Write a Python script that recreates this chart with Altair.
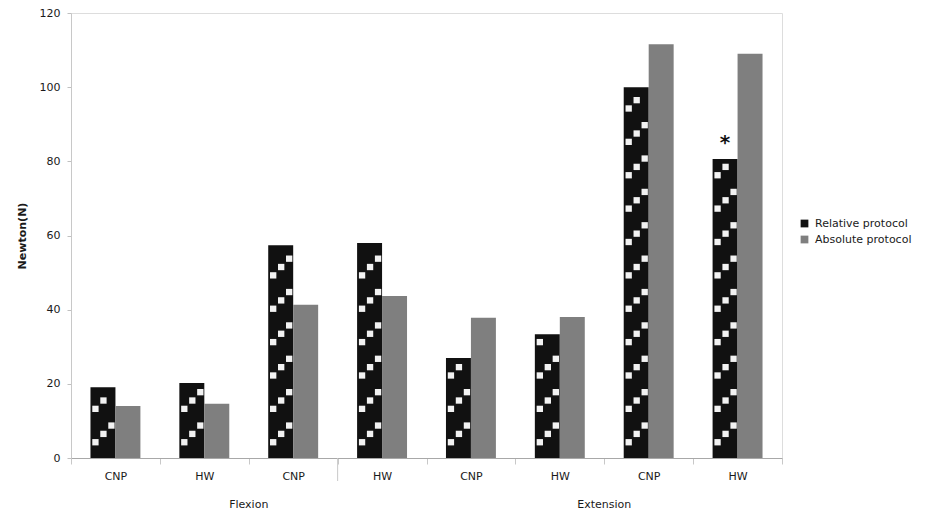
import json
import altair as alt
import pandas as pd

# ---- data ----
labels = ["CNP", "HW", "CNP", "HW", "CNP", "HW", "CNP", "HW"]
relative = [19.1, 20.2, 57.4, 58.0, 27.0, 33.4, 100.0, 80.6]
absolute = [14.0, 14.6, 41.3, 43.7, 37.8, 38.0, 111.6, 109.0]
series = ["Relative protocol", "Absolute protocol"]
groups = ["Flexion", "Extension"]
group_start_idx = [2, 6]      # group label is centred on the start of this band
separator_idx = [3]           # long separator tick at the start of this band
star_idx = [7]                # significance star on this relative bar
y_ticks = [0, 20, 40, 60, 80, 100, 120]

rows = []
for i, lab in enumerate(labels):
    rows.append({"idx": i, "label": lab, "series": series[0], "value": relative[i]})
    rows.append({"idx": i, "label": lab, "series": series[1], "value": absolute[i]})
df = pd.DataFrame(rows)

FONT = "DejaVu Sans"
label_expr = json.dumps(labels) + "[datum.value]"

x_enc = alt.X(
    "idx:O",
    scale=alt.Scale(paddingInner=0, paddingOuter=0),
    axis=alt.Axis(
        title=None, labelExpr=label_expr, labelAngle=0, tickBand="extent",
        tickSize=6, tickColor="#c8c8c8", domainColor="#a8a8a8",
        labelPadding=6, labelFontSize=11, labelColor="#1a1a1a", labelFont=FONT,
    ),
)
y_enc = alt.Y(
    "value:Q",
    scale=alt.Scale(domain=[0, 120], nice=False),
    axis=alt.Axis(
        values=y_ticks, title="Newton(N)", grid=False, tickSize=4,
        tickColor="#c0c0c0", domainColor="#c8c8c8", labelPadding=7,
        labelFontSize=11, labelColor="#1a1a1a", labelFont=FONT,
        titleFont=FONT, titleFontSize=11, titleFontWeight="bold",
        titleColor="#1a1a1a", titlePadding=12,
    ),
)

bars = alt.Chart(df).mark_bar().encode(
    x=x_enc,
    xOffset=alt.XOffset("series:N", sort=series,
                        scale=alt.Scale(paddingInner=0, paddingOuter=0.78)),
    y=y_enc,
    color=alt.Color(
        "series:N", sort=series,
        scale=alt.Scale(domain=series, range=["#111111", "#7f7f7f"]),
        legend=alt.Legend(
            title=None, orient="none", legendX=728, legendY=205,
            symbolType="square", symbolSize=60, labelFontSize=11,
            labelFont=FONT, labelColor="#1a1a1a", rowPadding=4, labelOffset=5,
        ),
    ),
)

# white-square pattern on the relative bars, derived from their values
rel_df = df[df["series"] == series[0]]
pat = (
    alt.Chart(rel_df)
    .transform_calculate(k="sequence(0, 60)")
    .transform_flatten(["k"])
    .transform_calculate(yy="2 + datum.k * 2.25", col="datum.k % 4")
    .transform_filter("datum.yy < datum.value - 1.5 && datum.col > 0")
)
pattern_layers = []
for col, off in [(1, -20), (2, -12), (3, -4)]:
    pattern_layers.append(
        pat.transform_filter(f"datum.col == {col}")
        .mark_square(size=40, color="#f2f2f2", opacity=1, xOffset=off)
        .encode(x=alt.X("idx:O"), y=alt.Y("yy:Q"))
    )

star_df = df[(df["series"] == series[0]) & (df["idx"].isin(star_idx))]
star = alt.Chart(star_df).mark_text(
    text="*", fontSize=20, fontWeight="bold", dy=-16, color="#111111", font=FONT
).encode(
    x=alt.X("idx:O"),
    xOffset=alt.XOffset("series:N", sort=series),
    y=alt.Y("value:Q"),
)

grp_df = pd.DataFrame({"idx": group_start_idx, "group": groups})
group_text = alt.Chart(grp_df).mark_text(
    fontSize=11, font=FONT, color="#1a1a1a"
).encode(
    x=alt.X("idx:O", bandPosition=0),
    y=alt.value(492),
    text="group:N",
)

sep_df = pd.DataFrame({"idx": separator_idx})
sep = alt.Chart(sep_df).mark_rule(color="#c8c8c8", strokeWidth=1).encode(
    x=alt.X("idx:O", bandPosition=0),
    y=alt.value(445),
    y2=alt.value(468),
)

chart = (
    alt.layer(bars, *pattern_layers, star, group_text, sep)
    .properties(
        width=711, height=445,
        autosize=alt.AutoSizeParams(type="none"),
        padding={"left": 63, "top": 5, "right": 150, "bottom": 55},
    )
    .configure_view(stroke="#b8b8b8", strokeWidth=1)
    .configure(font=FONT, background="white")
)

chart.save("out.html", embed_options={"renderer": "svg", "actions": False})
